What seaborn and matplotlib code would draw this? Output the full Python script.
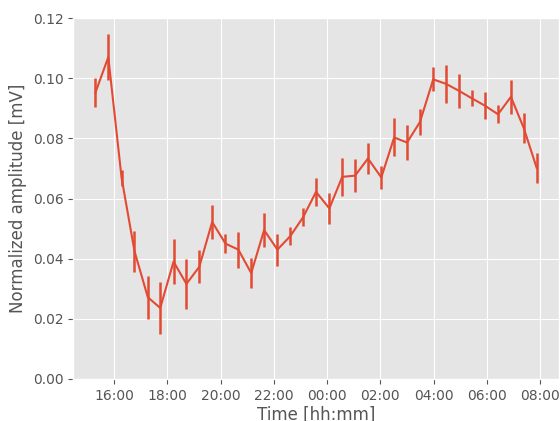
import numpy as np
import pandas as pd
import matplotlib
matplotlib.use('Agg')
import matplotlib.pyplot as plt
import matplotlib.dates as mdates
import seaborn as sns

# ── Data ──────────────────────────────────────────────────────────────────────
times = [
    '15:18', '15:47', '16:17', '16:46', '17:16', '17:44', '18:14', '18:43',
    '19:12', '19:41', '20:11', '20:40', '21:09', '21:38', '22:08', '22:37',
    '23:06', '23:35', '00:05', '00:34', '01:03', '01:32', '02:02', '02:31',
    '03:00', '03:29', '03:59', '04:28', '04:57', '05:26', '05:55', '06:25',
    '06:54', '07:23', '07:52',
]
amplitude = [
    0.0952, 0.1070, 0.0668, 0.0425, 0.0272, 0.0236, 0.0390, 0.0316,
    0.0373, 0.0522, 0.0450, 0.0430, 0.0352, 0.0495, 0.0430, 0.0475,
    0.0538, 0.0622, 0.0567, 0.0672, 0.0676, 0.0733, 0.0670, 0.0803,
    0.0786, 0.0854, 0.0996, 0.0981, 0.0958, 0.0933, 0.0909, 0.0880,
    0.0938, 0.0834, 0.0702,
]
amp_err = [
    0.0048, 0.0076, 0.0027, 0.0068, 0.0071, 0.0086, 0.0075, 0.0083,
    0.0055, 0.0057, 0.0032, 0.0060, 0.0049, 0.0057, 0.0053, 0.0030,
    0.0030, 0.0046, 0.0051, 0.0064, 0.0054, 0.0053, 0.0039, 0.0063,
    0.0059, 0.0042, 0.0040, 0.0062, 0.0056, 0.0027, 0.0046, 0.0030,
    0.0057, 0.0049, 0.0049,
]

# ── Build timestamps (recording runs past midnight) ──────────────────────────
stamps = []
day = pd.Timestamp('2021-01-01')
prev = None
for t in times:
    ts = pd.Timestamp(f"{day.date()} {t}")
    if prev is not None and ts < prev:
        day = day + pd.Timedelta(days=1)
        ts = pd.Timestamp(f"{day.date()} {t}")
    stamps.append(ts)
    prev = ts

df = pd.DataFrame({'time': stamps, 'amp': amplitude, 'err': amp_err})

# ── Plot ──────────────────────────────────────────────────────────────────────
plt.style.use('ggplot')
fig = plt.figure(figsize=(5.6, 4.21), dpi=100)
ax = fig.add_axes([0.131, 0.0998, 0.8667, 0.8574])

color = '#E24A33'
sns.lineplot(data=df, x='time', y='amp', color=color, linewidth=1.5, ax=ax)
ax.errorbar(df['time'], df['amp'], yerr=df['err'], fmt='none',
            ecolor=color, elinewidth=1.8, capsize=0)

ax.set_ylim(0, 0.12)
ax.xaxis.set_major_locator(mdates.HourLocator(byhour=range(0, 24, 2)))
ax.xaxis.set_major_formatter(mdates.DateFormatter('%H:%M'))
ax.set_xlabel('Time [hh:mm]', labelpad=2)
ax.set_ylabel('Normalized amplitude [mV]')

plt.savefig('out.png', dpi=100)
plt.close()
